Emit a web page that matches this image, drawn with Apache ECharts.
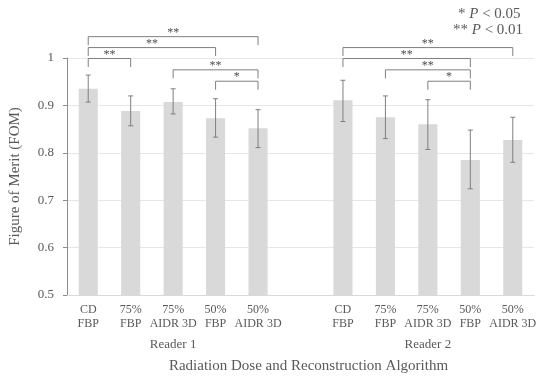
<!DOCTYPE html>
<html>
<head>
<meta charset="utf-8">
<script src="https://cdn.jsdelivr.net/npm/echarts@6/dist/echarts.min.js"></script>
<style>
  html, body { margin: 0; padding: 0; background: #fff; }
  #chart { width: 543px; height: 379px; }
</style>
</head>
<body>
<div id="chart"></div>
<script>
// Conditions per reader (one empty slot separates the two readers)
const conditions = ['CD\nFBP', '75%\nFBP', '75%\nAIDR 3D', '50%\nFBP', '50%\nAIDR 3D'];
const readers = ['Reader 1', 'Reader 2'];

// Mean figure of merit per condition
const fomReader1 = [0.935, 0.888, 0.907, 0.873, 0.852];
const fomReader2 = [0.911, 0.875, 0.860, 0.785, 0.827];

// Confidence interval bounds
const lowReader1 = [0.907, 0.857, 0.882, 0.833, 0.811];
const highReader1 = [0.964, 0.920, 0.935, 0.914, 0.891];
const lowReader2 = [0.866, 0.830, 0.807, 0.724, 0.780];
const highReader2 = [0.953, 0.920, 0.912, 0.848, 0.875];

// Significance brackets: [from slot, to slot, bracket level, marker]
const brackets = [
  [0, 4, 1.045, '**'],
  [0, 3, 1.022, '**'],
  [0, 1, 0.999, '**'],
  [2, 4, 0.975, '**'],
  [3, 4, 0.951, '*'],
  [6, 10, 1.022, '**'],
  [6, 9, 0.999, '**'],
  [7, 9, 0.975, '**'],
  [8, 9, 0.951, '*']
];

const yTicks = { min: 0.5, max: 1, interval: 0.1 };

// Build the 11-slot category axis: reader 1, gap, reader 2
const slots = conditions.concat([''], conditions);
const readerSlots = slots.map(() => '');
readerSlots[2] = readers[0];
readerSlots[8] = readers[1];
const fomAll = fomReader1.concat([null], fomReader2);
const errData = [];
lowReader1.forEach((v, i) => errData.push([i, v, highReader1[i]]));
lowReader2.forEach((v, i) => errData.push([i + 6, v, highReader2[i]]));

const FONT = "'Liberation Serif', 'Times New Roman', serif";
const TEXT = '#595959';
const LINE = '#7f7f7f';

const chart = echarts.init(document.getElementById('chart'), null, { renderer: 'canvas' });

chart.setOption({
  animation: false,
  backgroundColor: '#ffffff',
  textStyle: { fontFamily: FONT },
  grid: { left: 64, right: 9, top: 58, bottom: 82, containLabel: false },
  xAxis: [
    {
      type: 'category',
      data: slots,
      axisLine: { show: true, lineStyle: { color: '#d9d9d9', width: 1 } },
      axisTick: { show: false },
      axisLabel: {
        interval: 0, margin: 8, color: TEXT, fontFamily: FONT,
        fontSize: 12, lineHeight: 14
      }
    },
    {
      type: 'category',
      data: readerSlots,
      position: 'bottom',
      offset: 35,
      axisLine: { show: false },
      axisTick: { show: false },
      axisLabel: {
        interval: 0, margin: 8, color: TEXT, fontFamily: FONT,
        fontSize: 13, lineHeight: 14
      },
      name: 'Radiation Dose and Reconstruction Algorithm',
      nameLocation: 'middle',
      nameGap: 29,
      nameTextStyle: {
        color: TEXT, fontFamily: FONT, fontSize: 15,
        padding: [0, 0, 0, 16]
      }
    }
  ],
  yAxis: {
    type: 'value',
    min: yTicks.min,
    max: yTicks.max,
    interval: yTicks.interval,
    axisLine: { show: true, lineStyle: { color: '#8c8c8c', width: 1 } },
    axisTick: { show: true, length: 4, lineStyle: { color: '#8c8c8c' } },
    splitLine: { show: true, lineStyle: { color: '#e6e6e6', width: 1 } },
    axisLabel: {
      margin: 13, color: TEXT, fontFamily: FONT, fontSize: 13,
      formatter: v => String(Math.round(v * 10) / 10)
    },
    name: 'Figure of Merit (FOM)',
    nameLocation: 'middle',
    nameGap: 44,
    nameTextStyle: { color: TEXT, fontFamily: FONT, fontSize: 15 }
  },
  series: [
    {
      type: 'bar',
      data: fomAll,
      barWidth: '45%',
      itemStyle: { color: '#d9d9d9' },
      silent: true
    },
    {
      // confidence-interval whiskers
      type: 'custom',
      data: errData,
      z: 5,
      silent: true,
      renderItem: function (params, api) {
        const x = api.value(0);
        const top = api.coord([x, api.value(2)]);
        const bot = api.coord([x, api.value(1)]);
        const cap = 2.5;
        const st = { stroke: LINE, lineWidth: 1 };
        return {
          type: 'group',
          children: [
            { type: 'line', shape: { x1: top[0], y1: top[1], x2: bot[0], y2: bot[1] }, style: st },
            { type: 'line', shape: { x1: top[0] - cap, y1: top[1], x2: top[0] + cap, y2: top[1] }, style: st },
            { type: 'line', shape: { x1: bot[0] - cap, y1: bot[1], x2: bot[0] + cap, y2: bot[1] }, style: st }
          ]
        };
      }
    },
    {
      // significance brackets
      type: 'custom',
      data: brackets.map(b => [b[0], b[1], b[2]]),
      z: 6,
      clip: false,
      silent: true,
      renderItem: function (params, api) {
        const b = brackets[params.dataIndex];
        const a = api.coord([b[0], b[2]]);
        const c = api.coord([b[1], b[2]]);
        const drop = 8.5;
        return {
          type: 'group',
          children: [
            {
              type: 'polyline',
              shape: { points: [[a[0], a[1] + drop], [a[0], a[1]], [c[0], c[1]], [c[0], c[1] + drop]] },
              style: { stroke: LINE, lineWidth: 1, fill: null }
            },
            {
              type: 'text',
              style: {
                text: b[3],
                x: (a[0] + c[0]) / 2,
                y: a[1] + 2,
                align: 'center',
                verticalAlign: 'bottom',
                fill: '#4d4d4d',
                font: '12px ' + FONT
              }
            }
          ]
        };
      }
    }
  ],
  graphic: [
    {
      type: 'text',
      left: 458,
      top: 7,
      style: {
        text: '{n|* }{i|P}{n| < 0.05}',
        rich: {
          n: { fontFamily: FONT, fontSize: 15, fill: TEXT },
          i: { fontFamily: FONT, fontSize: 15, fontStyle: 'italic', fill: TEXT }
        }
      }
    },
    {
      type: 'text',
      left: 453,
      top: 23,
      style: {
        text: '{n|** }{i|P}{n| < 0.01}',
        rich: {
          n: { fontFamily: FONT, fontSize: 15, fill: TEXT },
          i: { fontFamily: FONT, fontSize: 15, fontStyle: 'italic', fill: TEXT }
        }
      }
    }
  ]
});
</script>
</body>
</html>
